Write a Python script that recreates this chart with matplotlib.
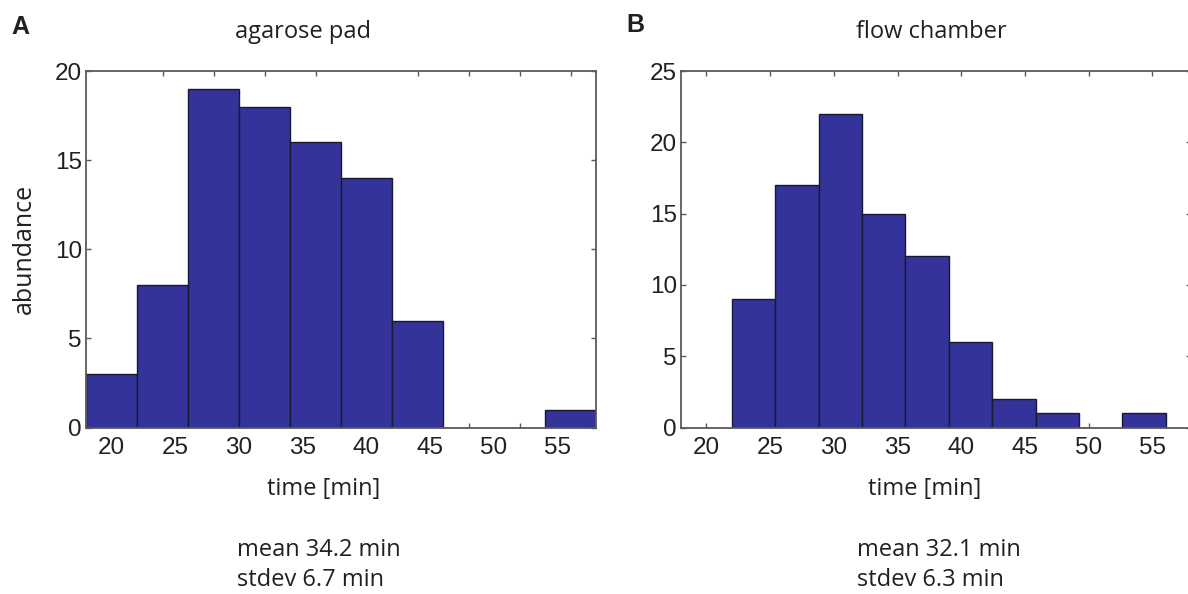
import matplotlib
matplotlib.use("Agg")
import matplotlib.pyplot as plt
import numpy as np

# ---- data ----
left_title = "agarose pad"
right_title = "flow chamber"
left_edges = [18, 22, 26, 30, 34, 38, 42, 46, 50, 54, 58]
left_counts = [3, 8, 19, 18, 16, 14, 6, 0, 0, 1]
left_tick_marks = [20, 24, 28, 32, 36, 40, 44, 48, 52, 56]
right_edges = [21.98, 25.39, 28.80, 32.20, 35.61, 39.02, 42.43, 45.83, 49.24, 52.65, 56.05]
right_counts = [9, 17, 22, 15, 12, 6, 2, 1, 0, 1]
x_labels = [20, 25, 30, 35, 40, 45, 50, 55]
left_yticks = [0, 5, 10, 15, 20]
right_yticks = [0, 5, 10, 15, 20, 25]
left_stats = ["mean 34.2 min", "stdev 6.7 min"]
right_stats = ["mean 32.1 min", "stdev 6.3 min"]

W, H = 1188, 594
BAR = "#333399"
SPINE = "#5a5a5a"
TXT = "#231f20"
LABEL_FONT = ["Open Sans", "DejaVu Sans"]
TICK_FONT = ["Liberation Sans", "DejaVu Sans"]
PANEL_FONT = ["Liberation Sans", "DejaVu Sans"]
TICK_SIZE = 17.5
LABEL_SIZE = 17

fig = plt.figure(figsize=(W / 100, H / 100), dpi=100)

def px_axes(x0, y_top, x1, y_bot):
    return fig.add_axes([x0 / W, 1 - y_bot / H, (x1 - x0) / W, (y_bot - y_top) / H])

def style(ax, ymax, yticks):
    ax.set_ylim(0, ymax)
    ax.set_xlim(18, 58)
    ax.set_yticks(yticks)
    for s in ax.spines.values():
        s.set_color(SPINE)
        s.set_linewidth(1.3)
    ax.tick_params(axis="y", which="both", direction="in", left=True, right=True,
                   length=3.5, width=1.0, color=SPINE, labelsize=TICK_SIZE,
                   labelcolor=TXT, pad=3)
    for lab in ax.get_yticklabels():
        lab.set_fontfamily(TICK_FONT)

def draw_bars(ax, edges, counts):
    edges = np.asarray(edges)
    ax.bar(edges[:-1], counts, width=np.diff(edges), align="edge",
           color=BAR, edgecolor="#1a1a2e", linewidth=1.0, zorder=2)

# ---- left panel ----
axL = px_axes(86, 71, 596, 427.5)
draw_bars(axL, left_edges, left_counts)
style(axL, 20, left_yticks)
axL.set_xticks(x_labels)
axL.set_xticklabels([str(v) for v in x_labels], fontfamily=TICK_FONT)
axL.set_xticks(left_tick_marks, minor=True)
axL.tick_params(axis="x", which="major", length=0, labelsize=TICK_SIZE,
                labelcolor=TXT, pad=7)
axL.tick_params(axis="x", which="minor", direction="in", top=True, bottom=True,
                length=3.5, width=1.0, color=SPINE)

# ---- right panel ----
axR = px_axes(681, 71, 1190.6, 427.5)
draw_bars(axR, right_edges, right_counts)
style(axR, 25, right_yticks)
axR.set_xticks(x_labels)
axR.set_xticklabels([str(v) for v in x_labels], fontfamily=TICK_FONT)
axR.tick_params(axis="x", which="major", direction="in", top=True, bottom=True,
                length=3.5, width=1.0, color=SPINE, labelsize=TICK_SIZE,
                labelcolor=TXT, pad=7)

# ---- texts ----
def ftext(x, y, s, **kw):
    fig.text(x / W, 1 - y / H, s, color=TXT, **kw)

ftext(11, 34, "A", fontsize=18, fontweight="bold", fontfamily=PANEL_FONT,
      ha="left", va="baseline")
ftext(626, 32, "B", fontsize=18, fontweight="bold", fontfamily=PANEL_FONT,
      ha="left", va="baseline")
ftext(303, 38, left_title, fontsize=LABEL_SIZE, fontfamily=LABEL_FONT, ha="center", va="baseline")
ftext(931, 38, right_title, fontsize=LABEL_SIZE, fontfamily=LABEL_FONT, ha="center", va="baseline")
ftext(324, 495, "time [min]", fontsize=LABEL_SIZE, fontfamily=LABEL_FONT, ha="center", va="baseline")
ftext(925, 495, "time [min]", fontsize=LABEL_SIZE, fontfamily=LABEL_FONT, ha="center", va="baseline")
ftext(24, 249, "abundance", fontsize=18, fontfamily=LABEL_FONT, ha="center",
      va="center", rotation=90)

for x0, lines in ((237, left_stats), (857, right_stats)):
    ftext(x0, 556, lines[0], fontsize=LABEL_SIZE, fontfamily=LABEL_FONT, ha="left", va="baseline")
    ftext(x0, 586, lines[1], fontsize=LABEL_SIZE, fontfamily=LABEL_FONT, ha="left", va="baseline")

fig.savefig("out.png", dpi=100, facecolor="white")
